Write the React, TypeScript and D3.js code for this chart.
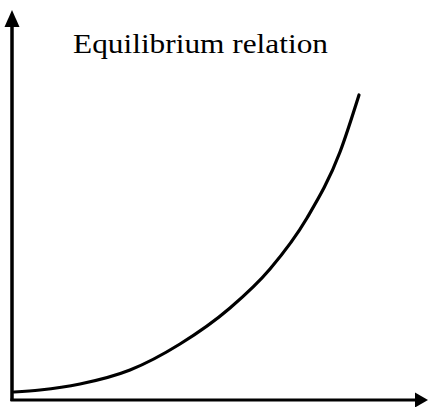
import React from "react";
import * as d3 from "d3";

const curveX = [2, 28, 68, 118, 168, 218, 258, 295, 328, 347];
const curveY = [8, 10, 16, 30, 56, 92, 131, 182, 248, 305];
const title = "Equilibrium relation";

const W = 428;
const H = 407;

export default function App() {
  const x = d3.scaleLinear().domain([0, 416]).range([12, 428]);
  const y = d3.scaleLinear().domain([0, 400]).range([400, 0]);
  const pts: [number, number][] = curveX.map((v, i) => [v, curveY[i]]);
  const line = d3
    .line<[number, number]>()
    .x((d) => x(d[0]))
    .y((d) => y(d[1]))
    .curve(d3.curveMonotoneX);

  const x0 = x(0);
  const y0 = y(0);
  const yTop = y(390);
  const xEnd = x(416);

  return (
    <svg
      width={W}
      height={H}
      style={{ position: "fixed", left: 0, top: 0, background: "#fff" }}
    >
      <rect width={W} height={H} fill="#fff" />
      {/* y axis */}
      <line x1={x0} y1={y0 + 1} x2={x0} y2={yTop + 14} stroke="#000" strokeWidth={3.5} />
      <path
        d={`M${x0},${yTop} L${x0 - 7.5},${yTop + 17} L${x0 + 7.5},${yTop + 17} Z`}
        fill="#000"
      />
      {/* x axis */}
      <line x1={x0 - 1.5} y1={y0} x2={xEnd - 10} y2={y0} stroke="#000" strokeWidth={3} />
      <path
        d={`M${xEnd},${y0} L${xEnd - 13},${y0 - 7.5} L${xEnd - 13},${y0 + 7.5} Z`}
        fill="#000"
      />
      {/* curve */}
      <path d={line(pts) || ""} fill="none" stroke="#000" strokeWidth={3.2} strokeLinecap="round" />
      <text
        x={73}
        y={53}
        style={{ fontFamily: "'Liberation Serif', 'Times New Roman', serif", fontSize: "27px" }}
        textLength={255}
        lengthAdjust="spacingAndGlyphs"
        fill="#000"
      >
        {title}
      </text>
    </svg>
  );
}
